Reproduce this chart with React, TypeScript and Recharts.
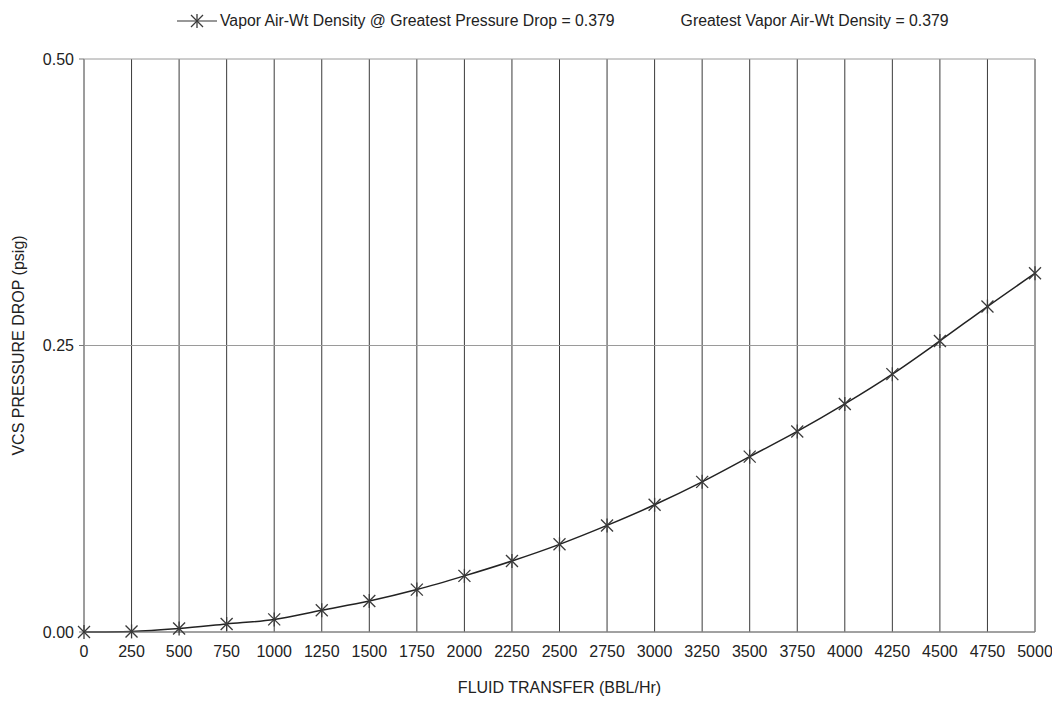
import React from 'react';
import {
  LineChart,
  Line,
  XAxis,
  YAxis,
  CartesianGrid,
  Label,
} from 'recharts';

// Fluid transfer (BBL/Hr) along the x axis
const flowRates = [
  0, 250, 500, 750, 1000, 1250, 1500, 1750, 2000, 2250, 2500,
  2750, 3000, 3250, 3500, 3750, 4000, 4250, 4500, 4750, 5000,
];

// VCS pressure drop (psig)
const pressureDrop = [
  0.0, 0.0005, 0.003, 0.007, 0.011, 0.019, 0.027, 0.037, 0.049, 0.062, 0.0765,
  0.093, 0.111, 0.131, 0.153, 0.175, 0.199, 0.225, 0.254, 0.284, 0.313,
];

const yTicks = [0, 0.25, 0.5];

const seriesName = 'Vapor Air-Wt Density @ Greatest Pressure Drop = 0.379';
const noteText = 'Greatest Vapor Air-Wt Density = 0.379';

const data = flowRates.map((flow, i) => ({ flow, drop: pressureDrop[i] }));

const FONT = '"Liberation Sans", Arial, sans-serif';
const INK = '#222';

// asterisk-style marker (X with a vertical bar)
const StarDot = ({ cx, cy }: any) => {
  if (cx == null || cy == null) return null;
  const r = 6;
  return (
    <g stroke="#3a3a3a" strokeWidth={1.3}>
      <line x1={cx - r} y1={cy - r} x2={cx + r} y2={cy + r} />
      <line x1={cx - r} y1={cy + r} x2={cx + r} y2={cy - r} />
      <line x1={cx} y1={cy - r - 1} x2={cx} y2={cy + r + 1} />
    </g>
  );
};

// legend row drawn above the plot
const TopLegend = () => (
  <div
    style={{
      position: 'absolute',
      top: 4,
      left: 169,
      display: 'flex',
      alignItems: 'center',
      whiteSpace: 'nowrap',
      fontFamily: FONT,
      fontSize: 15.8,
      color: INK,
    }}
  >
    <svg width={40} height={14} style={{ marginRight: 3 }}>
      <line x1={0} y1={7} x2={40} y2={7} stroke="#333" strokeWidth={1.2} />
      <StarDot cx={20} cy={7} />
    </svg>
    <span>{seriesName}</span>
    <span style={{ marginLeft: 66 }}>{noteText}</span>
  </div>
);

export default function App() {
  return (
    <div style={{ position: 'relative', width: 1044, height: 692, background: '#fff' }}>
      <TopLegend />
      <LineChart
        width={1044}
        height={692}
        data={data}
        margin={{ top: 51, right: 17, bottom: 38, left: 16 }}
      >
        <CartesianGrid horizontal={false} stroke="#3a3a3a" strokeWidth={1} />
        <CartesianGrid vertical={false} stroke="#9a9a9a" strokeWidth={1} />
        <XAxis
          dataKey="flow"
          type="number"
          domain={[0, 5000]}
          ticks={flowRates}
          interval={0}
          tickLine={false}
          axisLine={{ stroke: '#777' }}
          tick={{ fill: INK, fontSize: 16, fontFamily: FONT }}
          tickMargin={8}
          height={30}
        >
          <Label
            value="FLUID TRANSFER (BBL/Hr)"
            position="bottom"
            offset={20}
            style={{ fill: INK, fontSize: 16, fontFamily: FONT }}
          />
        </XAxis>
        <YAxis
          type="number"
          domain={[0, 0.5]}
          ticks={yTicks}
          tickFormatter={(v: number) => v.toFixed(2)}
          axisLine={false}
          tickLine={{ stroke: '#777' }}
          tickSize={5}
          tickMargin={5}
          tick={{ fill: INK, fontSize: 16, fontFamily: FONT }}
          width={60}
        >
          <Label
            value="VCS PRESSURE DROP (psig)"
            angle={-90}
            position="insideLeft"
            offset={-6}
            style={{ textAnchor: 'middle', fill: INK, fontSize: 16, fontFamily: FONT }}
          />
        </YAxis>
        <Line
          type="monotone"
          dataKey="drop"
          name={seriesName}
          stroke="#222"
          strokeWidth={1.5}
          dot={<StarDot />}
          activeDot={false}
          isAnimationActive={false}
        />
      </LineChart>
    </div>
  );
}
